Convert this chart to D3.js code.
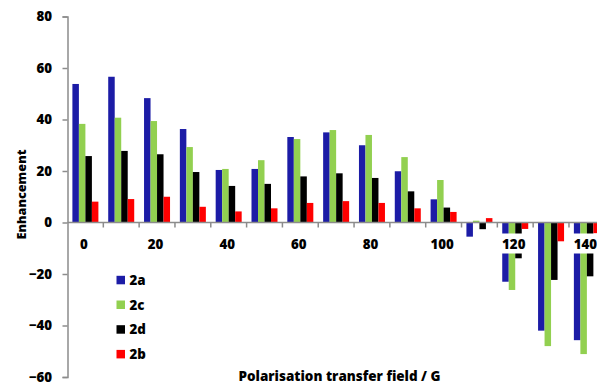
<!DOCTYPE html>
<html>
<head>
<meta charset="utf-8">
<script src="https://cdn.jsdelivr.net/npm/d3@7"></script>
<style>
  html, body { margin: 0; padding: 0; background: #fff; }
  svg { display: block; }
  text { font-family: "Open Sans", Lato, sans-serif; font-weight: 800; fill: #000; }
</style>
</head>
<body>
<div id="chart"></div>
<script>
// Polarisation transfer field (G) for each group of bars
const fields = [0, 10, 20, 30, 40, 50, 60, 70, 80, 90, 100, 110, 120, 130, 140];
// Fields that get a printed category label
const fieldLabels = [0, 20, 40, 60, 80, 100, 120, 140];

const seriesNames = ["2a", "2c", "2d", "2b"];
const seriesColors = ["#1c1ca6", "#92d050", "#000000", "#ff0000"];

// Enhancement per field, one array per compound
const values2a = [53.8, 56.6, 48.3, 36.3, 20.4, 20.8, 33.2, 35.0, 30.0, 19.9, 9.0, -5.5, -23.0, -42.0, -45.7];
const values2c = [38.3, 40.7, 39.4, 29.3, 20.8, 24.2, 32.4, 35.9, 34.0, 25.4, 16.5, 0.7, -26.2, -48.0, -51.1];
const values2d = [25.8, 27.8, 26.5, 19.6, 14.2, 15.0, 17.9, 19.1, 17.3, 12.1, 5.8, -2.6, -13.9, -22.3, -20.9];
const values2b = [8.1, 9.1, 10.0, 6.1, 4.3, 5.5, 7.6, 8.3, 7.6, 5.5, 4.1, 1.7, -2.5, -7.3, -4.2];

const yTicks = [-60, -40, -20, 0, 20, 40, 60, 80];

const seriesValues = [values2a, values2c, values2d, values2b];

const W = 597, H = 385;
const tickFont = 13.3;
const axisGrey = "#8c8c8c";

const svg = d3.select("#chart").append("svg").attr("width", W).attr("height", H);

const plotLeft = 67.5, step = 35.82;
const x0 = d3.scaleBand().domain(fields).range([plotLeft, plotLeft + step * fields.length]).padding(0);
const x1 = d3.scaleBand().domain(seriesNames).range([4.9, 30.9]).padding(0);
const y = d3.scaleLinear().domain([-60, 80]).range([377, 16.5]);

// Shrink or grow a text's font so that it spans the given width
function fitText(sel, width) {
  const node = sel.node();
  const fs = parseFloat(sel.attr("font-size"));
  const len = node.getComputedTextLength();
  if (len > 0) sel.attr("font-size", (fs * width / len).toFixed(2));
}

// Bars
const groups = svg.append("g").selectAll("g")
  .data(fields)
  .join("g")
  .attr("transform", d => `translate(${x0(d)},0)`);

groups.selectAll("rect")
  .data((f, i) => seriesNames.map((s, k) => ({ s, k, v: seriesValues[k][i] })))
  .join("rect")
  .attr("x", d => x1(d.s))
  .attr("width", x1.bandwidth())
  .attr("y", d => Math.min(y(d.v), y(0)))
  .attr("height", d => Math.abs(y(d.v) - y(0)))
  .attr("fill", d => seriesColors[d.k]);

// Y axis
const yAxis = d3.axisLeft(y).tickValues(yTicks).tickSize(5).tickPadding(10.5);
const gy = svg.append("g").attr("transform", `translate(${plotLeft},0)`).call(yAxis);
gy.select(".domain").attr("stroke", axisGrey).attr("stroke-width", 1.5);
gy.selectAll(".tick line").attr("stroke", axisGrey).attr("stroke-width", 1.5);
gy.selectAll(".tick text")
  .attr("font-size", tickFont)
  .attr("font-family", "'Open Sans', sans-serif")
  .attr("font-weight", 800)
  .attr("fill", "#000");

// X axis line at zero with boundary ticks
const gx = svg.append("g");
gx.append("line")
  .attr("x1", plotLeft).attr("x2", W)
  .attr("y1", y(0)).attr("y2", y(0))
  .attr("stroke", axisGrey).attr("stroke-width", 1.5);
gx.selectAll("line.tick")
  .data(fields.slice(1))
  .join("line")
  .attr("class", "tick")
  .attr("x1", d => x0(d)).attr("x2", d => x0(d))
  .attr("y1", y(0)).attr("y2", y(0) + 5)
  .attr("stroke", axisGrey).attr("stroke-width", 1.5);

// Category labels with white backing boxes
const labelY = 248.5;
const lab = svg.append("g").selectAll("g")
  .data(fieldLabels)
  .join("g")
  .attr("transform", d => `translate(${x0(d) + x0.bandwidth() / 2 - 1.5},0)`);
lab.append("rect")
  .attr("y", y(0) + 11)
  .attr("height", 20)
  .attr("fill", "#fff");
lab.append("text")
  .attr("y", labelY)
  .attr("text-anchor", "middle")
  .attr("font-size", tickFont)
  .text(d => d);
lab.each(function() {
  const g = d3.select(this);
  const w = g.select("text").node().getComputedTextLength();
  g.select("rect").attr("x", -w / 2 - 1.5).attr("width", w + 3);
});

// Axis titles
const yTitle = svg.append("text")
  .attr("transform", `translate(26,194.5) rotate(-90)`)
  .attr("text-anchor", "middle")
  .attr("font-size", 14)
  .text("Enhancement");
fitText(yTitle, 90);

const xTitle = svg.append("text")
  .attr("x", 339.5)
  .attr("y", 380.5)
  .attr("text-anchor", "middle")
  .attr("font-size", 14)
  .text("Polarisation transfer field / G");
fitText(xTitle, 202);

// Legend
const legend = svg.append("g").selectAll("g")
  .data(seriesNames)
  .join("g")
  .attr("transform", (d, i) => `translate(116.5,${280 + i * 24.7})`);
legend.append("rect")
  .attr("x", 0).attr("y", -4.2)
  .attr("width", 8.5).attr("height", 8.5)
  .attr("fill", (d, i) => seriesColors[i]);
legend.append("text")
  .attr("x", 13).attr("y", 5)
  .attr("font-size", tickFont)
  .text(d => d);
</script>
</body>
</html>
